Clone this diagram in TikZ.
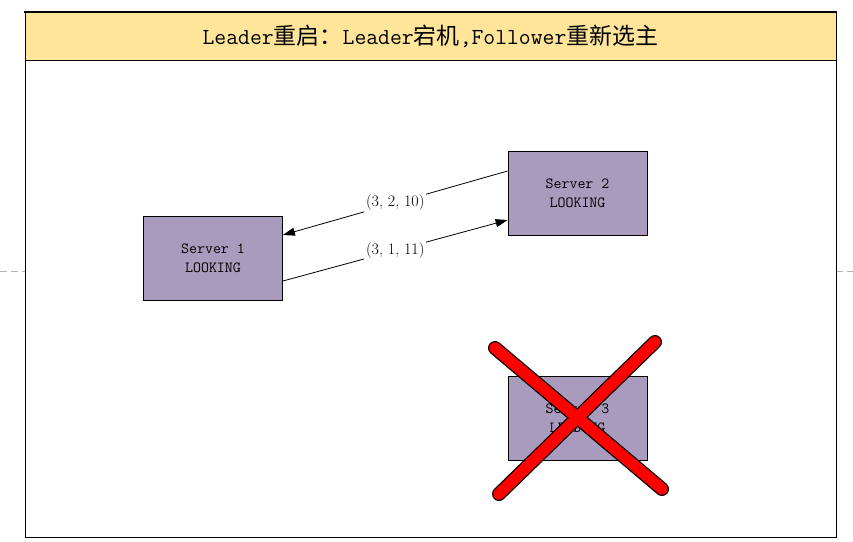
\documentclass[tikz,border=0pt]{standalone}
\usepackage{fontspec}
\newfontfamily\cjk{Noto Sans CJK SC}
\usetikzlibrary{arrows.meta,calc}
\definecolor{titlebg}{HTML}{FFE599}
\definecolor{srvfill}{HTML}{A99BBD}
\definecolor{crossred}{HTML}{FF0000}
\tikzset{
  srv/.style={draw=black, line width=0.8pt, fill=srvfill, minimum width=139pt, minimum height=84pt,
    inner sep=0pt, align=center, font=\ttfamily\fontsize{15.5}{19}\selectfont},
  msg/.style={draw=black, line width=0.8pt, -{Triangle[length=12pt,width=8pt]}},
  msglabel/.style={fill=white, inner sep=2pt, font=\rmfamily\fontsize{16}{18}\selectfont},
  crossline/.style={line width=14pt, line cap=round},
  sidedash/.style={draw=gray!60, line width=1pt, dash pattern=on 7pt off 4pt}
}
\begin{document}
\begin{tikzpicture}[x=1pt,y=-1pt]
\useasboundingbox[fill=white] (0,0) rectangle (853,541);
% side dashed marks
\draw[sidedash] (0,271) -- (25,271);
\draw[sidedash] (836,271) -- (853,271);
% frame and title bar
\fill[titlebg] (25,12) rectangle (836,60);
\draw[line width=1pt] (25,12) rectangle (836,537);
\draw[line width=1pt] (25,60) -- (836,60);
\draw[line width=2.2pt] (24,12) -- (837,12);
\node (title) at (430.5,36) {\ttfamily\fontsize{23}{26}\selectfont Leader{\cjk 重启：}Leader{\cjk 宕机},Follower{\cjk 重新选主}};
% servers
\node[srv] (s1) at (213,258) {Server 1\\LOOKING};
\node[srv] (s2) at (577.5,193) {Server 2\\LOOKING};
\node[srv] (s3) at (577.5,418) {Server 3\\LEADING};
% messages
\draw[msg] ($(s2.west)+(0,-22)$) -- node[msglabel] (l1) {(3, 2, 10)} ($(s1.east)+(0,-23)$);
\draw[msg] ($(s1.east)+(0,23)$) -- node[msglabel] (l2) {(3, 1, 11)} ($(s2.west)+(0,27)$);
% cross
\coordinate (c1a) at (495,348);
\coordinate (c1b) at (662,489);
\coordinate (c2a) at (655,342);
\coordinate (c2b) at (499,494);
\draw[crossline, black] (c1a) -- (c1b);
\draw[crossline, black] (c2a) -- (c2b);
\draw[crossline, line width=11.5pt, crossred] (c1a) -- (c1b);
\draw[crossline, line width=11.5pt, crossred] (c2a) -- (c2b);
\end{tikzpicture}
\end{document}
